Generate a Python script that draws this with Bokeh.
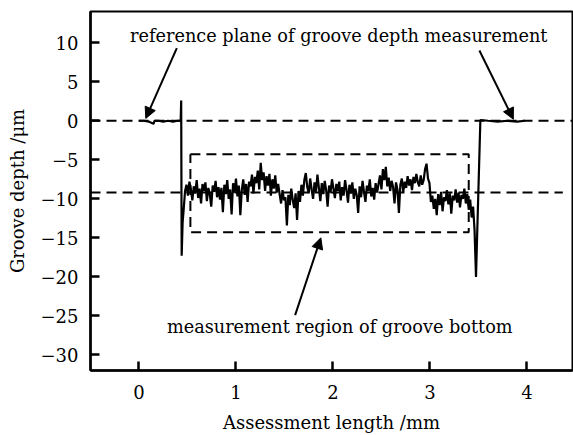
import numpy as np
from bokeh.plotting import figure
from bokeh.models import Arrow, NormalHead, Label, FixedTicker
from bokeh.embed import file_html
from bokeh.resources import INLINE

# ---- data ----
x_ticks = [0, 1, 2, 3, 4]
y_ticks = [-30, -25, -20, -15, -10, -5, 0, 5, 10]

# left reference plane + left groove edge
left_x = [0.0, 0.05, 0.10, 0.15, 0.16, 0.20, 0.25, 0.30, 0.35, 0.40, 0.43, 0.435, 0.44, 0.45]
left_y = [0.0, 0.0, -0.1, -0.4, 0.0, 0.0, -0.1, 0.0, -0.1, 0.0, 0.0, 2.6, -17.3, -13.0]

# groove bottom profile (sampled every 0.015 mm starting at 0.46 mm)
bottom_x0 = 0.46
bottom_dx = 0.015
bottom_y = [
    # A
    -11.5, -9.0, -8.2, -9.6, -7.8, -8.8, -10.2, -8.4, -9.3, -7.6, -9.9, -8.7, -10.6,
    -8.1, -9.0, -7.9, -10.3, -8.6, -9.4, -11.0, -8.3, -9.1, -7.7, -9.8, -8.5, -10.1,
    # B
    -8.6, -11.7, -8.2, -9.4, -7.6, -10.0, -8.8, -12.0, -8.0, -9.2, -7.4, -9.7, -8.3,
    -12.1, -8.9, -7.5, -9.5, -8.1, -10.4, -7.8,
    # C
    -8.4, -6.9, -9.3, -7.2, -8.0, -6.4, -8.8, -5.4, -7.6, -6.6, -9.0, -7.1, -8.3,
    -6.8, -9.6, -7.5, -8.7, -7.0, -9.2, -8.1,
    # D
    -9.4, -10.6, -8.9, -10.2, -9.8, -13.4, -9.5, -10.8, -8.7, -10.1, -11.2, -9.3,
    -12.7, -9.0, -10.4, -8.2, -9.6, -7.6, -6.7, -8.5,
    # E
    -9.3, -7.4, -8.8, -10.0, -7.9, -9.1, -6.9, -8.6, -10.3, -8.0, -9.4, -7.7, -8.9,
    -11.0, -8.3, -9.2, -7.5, -8.7, -9.9, -8.1,
    # F
    -9.0, -7.8, -10.2, -8.5, -9.6, -7.6, -8.9, -10.5, -8.2, -9.3, -7.9, -10.0, -8.7,
    -9.5, -11.8, -8.4, -9.8, -7.7, -9.1, -10.4, -8.3, -9.0, -7.5, -9.7, -8.6, -10.1, -8.0,
    # G
    -9.2, -8.1, -7.0, -8.8, -6.2, -7.6, -5.9, -8.4, -7.3, -9.0, -7.7, -8.5, -10.6,
    -7.9, -8.8, -11.8, -8.2, -7.4, -9.1, -7.8, -8.6, -7.1, -8.3, -7.5, -8.9, -7.2,
    -8.0, -6.8, -7.9, -8.4, -7.0, -8.2, -7.6,
    # H
    -6.2, -5.5, -7.4, -8.0, -10.4, -9.6, -11.3, -10.0, -12.1, -9.4, -10.8, -9.1,
    -11.6, -9.8, -10.3, -8.9, -10.7, -9.3, -11.9, -9.6, -10.2, -8.8, -10.5, -9.2,
    -11.1, -9.5, -10.0, -8.7, -10.6, -9.4, -11.4, -10.1, -12.4,
]

# right groove edge + right reference plane
right_x = [3.445, 3.46, 3.475, 3.52, 3.60, 3.70, 3.80, 3.90, 3.98]
right_y = [-11.0, -14.0, -20.0, 0.1, 0.0, -0.1, 0.0, -0.1, 0.0]

# reference lines
ref_plane_y = 0.0
mean_bottom_y = -9.2
ref_plane_x = [-0.5, 4.47]
mean_bottom_x = [-0.5, 4.37]

# measurement region box
box_x = [0.53, 3.40]
box_y = [-14.3, -4.3]

# annotation arrows: (x_start, y_start, x_end, y_end)
arrows = [
    (0.39, 9.3, 0.07, 0.3),
    (3.51, 9.0, 3.86, 0.2),
    (1.61, -24.9, 1.875, -15.0),
]
text_top = "reference plane of groove depth measurement"
text_top_pos = (2.06, 10.9)
text_bottom = "measurement region of groove bottom"
text_bottom_pos = (2.07, -26.4)

x_label = "Assessment length /mm"
y_label = "Groove depth /\u03bcm"

# ---- build ----
bottom_x = [bottom_x0 + i * bottom_dx for i in range(len(bottom_y))]
prof_x = left_x + bottom_x + right_x
prof_y = left_y + bottom_y + right_y

FONT = "DejaVu Serif"

p = figure(width=573, height=435, x_range=(-0.5, 4.47), y_range=(-32, 14),
           output_backend="svg", toolbar_location=None,
           min_border_left=90, min_border_right=1, min_border_top=11, min_border_bottom=64)
p.grid.visible = False
p.outline_line_color = "black"
p.outline_line_width = 2
p.background_fill_color = "white"
p.border_fill_color = "white"

# dashed reference lines
p.line(ref_plane_x, [ref_plane_y, ref_plane_y], line_color="black", line_width=2, line_dash="10 6")
p.line(mean_bottom_x, [mean_bottom_y, mean_bottom_y], line_color="black", line_width=2, line_dash="10 6")
# box
bx = [box_x[0], box_x[1], box_x[1], box_x[0], box_x[0]]
by = [box_y[1], box_y[1], box_y[0], box_y[0], box_y[1]]
p.line(bx, by, line_color="black", line_width=2, line_dash="10 6")

# profile
p.line(prof_x, prof_y, line_color="black", line_width=2.2)

# arrows
for (xs, ys, xe, ye) in arrows:
    p.add_layout(Arrow(end=NormalHead(size=11, fill_color="black", line_color="black"),
                       x_start=xs, y_start=ys, x_end=xe, y_end=ye,
                       line_color="black", line_width=2))

p.add_layout(Label(x=text_top_pos[0], y=text_top_pos[1], text=text_top,
                   text_font=FONT, text_font_size="17.7px", text_align="center",
                   text_baseline="middle", text_color="black"))
p.add_layout(Label(x=text_bottom_pos[0], y=text_bottom_pos[1], text=text_bottom,
                   text_font=FONT, text_font_size="17.7px", text_align="center",
                   text_baseline="middle", text_color="black"))

for ax in (p.xaxis[0], p.yaxis[0]):
    ax.axis_line_width = 2.5
    ax.axis_line_color = "black"
    ax.major_tick_in = 9
    ax.major_tick_out = 0
    ax.major_tick_line_width = 2.5
    ax.minor_tick_in = 0
    ax.minor_tick_out = 0
    ax.major_label_text_font = FONT
    ax.major_label_text_font_size = "18px"
    ax.major_label_text_color = "black"
    ax.axis_label_text_font = FONT
    ax.axis_label_text_font_size = "18px"
    ax.axis_label_text_font_style = "normal"
    ax.axis_label_text_color = "black"

p.xaxis.ticker = FixedTicker(ticks=x_ticks)
p.yaxis.ticker = FixedTicker(ticks=y_ticks)
p.xaxis.major_label_overrides = {t: str(t) for t in x_ticks}
p.yaxis.major_label_overrides = {t: (str(t).replace("-", "\u2212")) for t in y_ticks}
p.xaxis.axis_label = x_label
p.yaxis.axis_label = y_label
p.xaxis.major_label_standoff = 14
p.yaxis.major_label_standoff = 12
p.xaxis.axis_label_standoff = 10
p.yaxis.axis_label_standoff = 10

open("out.html", "w").write(file_html(p, INLINE))
